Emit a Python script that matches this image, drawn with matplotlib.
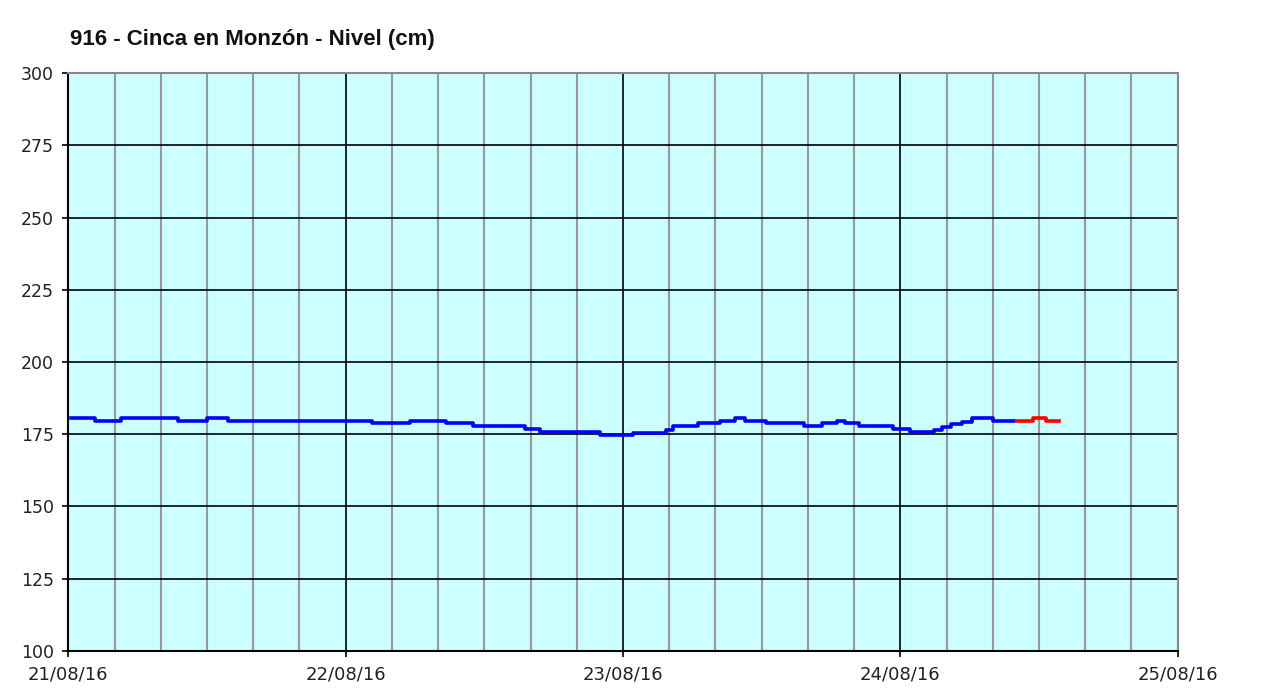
import numpy as np
import matplotlib
matplotlib.use("Agg")
import matplotlib.pyplot as plt
from matplotlib.ticker import MultipleLocator

# Nivel del río (cm); horas desde 21/08/16 00:00 en que cambia el valor
horas_azul = [0.25, 2.3, 4.6, 9.5, 12.0, 13.8, 26.3, 29.6, 32.7, 35.0, 39.5,
              40.8, 46.0, 48.9, 51.7, 52.3, 54.5, 56.4, 57.7, 58.6, 60.4, 63.7,
              65.2, 66.5, 67.2, 68.4, 71.4, 72.8, 74.9, 75.6, 76.4, 77.3, 78.2,
              80.0, 81.8]
nivel_azul = [180.6, 179.6, 180.6, 179.6, 180.6, 179.6, 178.9, 179.6, 178.9,
              177.9, 176.8, 175.6, 174.7, 175.3, 176.5, 177.9, 178.9, 179.6,
              180.6, 179.6, 178.9, 177.9, 178.9, 179.6, 178.9, 177.9, 176.8,
              175.6, 176.6, 177.4, 178.4, 179.2, 180.6, 179.6]

# tramo final en rojo
horas_rojo = [82.1, 83.5, 84.6, 85.7]
nivel_rojo = [179.6, 180.6, 179.6]

dias = ["21/08/16", "22/08/16", "23/08/16", "24/08/16", "25/08/16"]
titulo = "916 - Cinca en Monzón - Nivel (cm)"

fig = plt.figure(figsize=(12.65, 6.91), dpi=100)
ax = fig.add_axes([68.3 / 1265, 1 - 650.7 / 691, (1177.7 - 68.3) / 1265, (650.7 - 73.3) / 691])
ax.set_facecolor("#CCFFFF")

# rejilla: cada 4 h en gris, cada día en negro
for h in np.arange(4, 96, 4):
    if h % 24 == 0:
        ax.axvline(h, color="black", lw=1.2, zorder=1)
    else:
        ax.axvline(h, color="#999999", lw=1.5, zorder=1)
for v in range(125, 300, 25):
    ax.axhline(v, color="black", lw=1.2, zorder=1)

ax.step(horas_azul, nivel_azul + [nivel_azul[-1]], where="post",
        color="#0000FF", lw=2.6, zorder=3)
ax.step(horas_rojo, nivel_rojo + [nivel_rojo[-1]], where="post",
        color="#FF0000", lw=2.6, zorder=3)

ax.set_xlim(0, 96)
ax.set_ylim(100, 300)
ax.set_xticks([0, 24, 48, 72, 96])
ax.set_xticklabels(dias)
ax.yaxis.set_major_locator(MultipleLocator(25))
ax.tick_params(axis="both", direction="out", length=4.5, width=1.2, color="black",
               labelcolor="#222222")
ax.tick_params(axis="x", pad=6, labelsize=13)
ax.tick_params(axis="y", pad=6, labelsize=12.5)

for s in ["left", "bottom"]:
    ax.spines[s].set_color("black")
    ax.spines[s].set_linewidth(1.5)
for s in ["top", "right"]:
    ax.spines[s].set_color("#888888")
    ax.spines[s].set_linewidth(1.5)

fig.text(70 / 1265, 1 - 39 / 691, titulo, fontsize=16, fontweight="bold",
         family="Liberation Sans", color="#111111", ha="left", va="center")

fig.savefig("out.png", dpi=100)
